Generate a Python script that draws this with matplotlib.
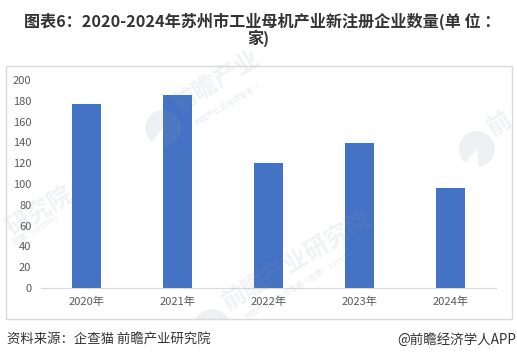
import matplotlib
matplotlib.use('Agg')
import matplotlib.pyplot as plt
from matplotlib.patches import Rectangle, Wedge

plt.rcParams['font.family'] = ['Noto Sans CJK SC', 'DejaVu Sans']

#Data
years = ['2020年', '2021年', '2022年', '2023年', '2024年']
counts = [177, 186, 120, 139, 96]
yticks = [0, 20, 40, 60, 80, 100, 120, 140, 160, 180, 200]
title_lines = ['图表6：2020-2024年苏州市工业母机产业新注册企业数量(单 位 ：', '家)']
source = '资料来源：企查猫 前瞻产业研究院'
credit = '@前瞻经济学人APP'
marks_big = ['前瞻产业', '前瞻产业研究院', '研究院', '前']
marks_small = ['中国产业咨询领导者（', '中国产业咨询领导者（股票：839599）', '股票：839599）']

W, H = 517, 361
GREY = '#8a99ad'
fig = plt.figure(figsize=(W / 100, H / 100), dpi=100, facecolor='white')

#Chart frame
fig.add_artist(Rectangle((5.5 / W, 1 - 318.5 / H), 506 / W, 253 / H, transform=fig.transFigure,
                         fill=False, edgecolor='#d9d9d9', linewidth=1))

#Axes
ax = fig.add_axes([41 / W, 1 - 288 / H, 455 / W, 208 / H])
ax.bar(range(len(years)), counts, width=0.31, color='#4472c4', zorder=2)
ax.set_xlim(-0.5, 4.5)
ax.set_ylim(0, 200)
ax.set_yticks(yticks)
ax.set_xticks(range(len(years)))
ax.set_xticklabels(years)
ax.tick_params(axis='both', length=0, labelsize=8, labelcolor='#595959')
ax.tick_params(axis='x', pad=6)
ax.tick_params(axis='y', pad=7)
for s in ['top', 'right', 'left']:
    ax.spines[s].set_visible(False)
ax.spines['bottom'].set_color('#d9d9d9')
ax.patch.set_alpha(0)

#Watermarks, on an overlay in pixel coordinates
wm = fig.add_axes([0, 0, 1, 1])
wm.set_xlim(0, W)
wm.set_ylim(H, 0)
wm.axis('off')
wm.patch.set_alpha(0)
clip = Rectangle((0, 57), 512, 262, transform=wm.transData)

big_pos = [(217, 81), (297, 260), (40, 211), (500, 124)]
for txt, (x, y) in zip(marks_big, big_pos):
    t = wm.text(x, y, txt, fontsize=17.5, fontweight='bold', color=GREY, alpha=0.13,
                rotation=31, ha='center', va='center', rotation_mode='anchor')
    t.set_clip_path(clip)

small_pos = [(195, 124, 'left'), (245, 318, 'left'), (62, 215, 'right')]
for txt, (x, y, ha) in zip(marks_small, small_pos):
    t = wm.text(x, y, txt, fontsize=5.5, color=GREY, alpha=0.2,
                rotation=31, ha=ha, va='center', rotation_mode='anchor')
    t.set_clip_path(clip)

for (x, y) in [(163, 128), (477, 149), (212, 327)]:
    # the logo is a disc with a slit cut out of the upper left
    p = Wedge((x, y), 18, 130, 85, facecolor=GREY, alpha=0.14, linewidth=0)
    wm.add_patch(p)
    p.set_clip_path(clip)

#Title and footer
fig.text(262 / W, 1 - 21 / H, title_lines[0], fontsize=11.6, fontweight='bold', color='#333333', ha='center', va='center')
fig.text(258 / W, 1 - 38 / H, title_lines[1], fontsize=11.6, fontweight='bold', color='#333333', ha='center', va='center')
fig.text(7 / W, 1 - 340 / H, source, fontsize=9.6, color='#333333', ha='left', va='center')
fig.text(516 / W, 1 - 340 / H, credit, fontsize=9.7, color='#333333', ha='right', va='center')

fig.savefig('out.png', dpi=100)
